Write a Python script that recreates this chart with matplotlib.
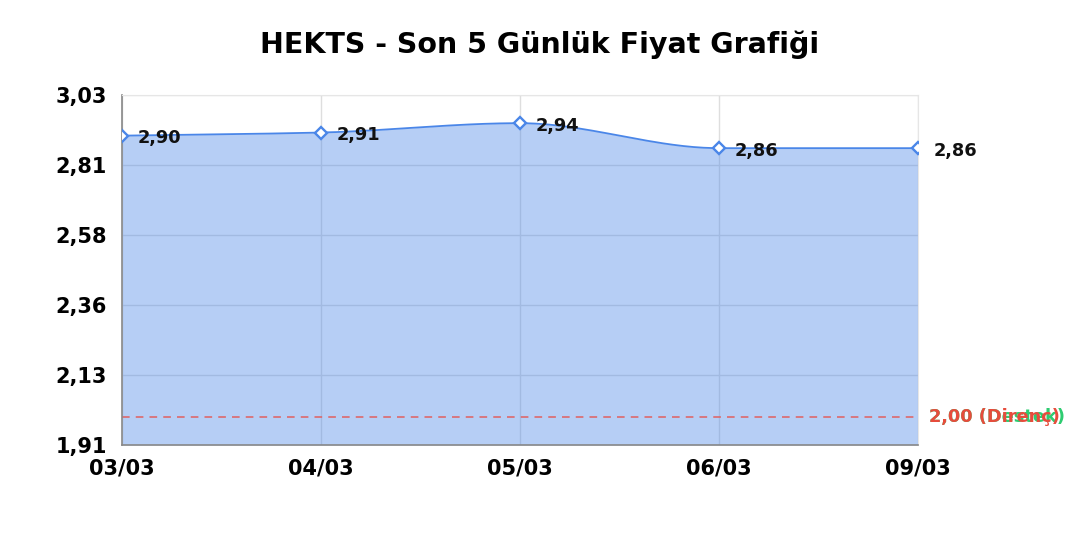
import numpy as np
import matplotlib
matplotlib.use("Agg")
import matplotlib.pyplot as plt

plt.rcParams["font.family"] = ["DejaVu Sans"]

dates = ["03/03", "04/03", "05/03", "06/03", "09/03"]
prices = [2.90, 2.91, 2.94, 2.86, 2.86]
support = 2.00
resistance = 2.00
y_min, y_max = 1.91, 3.03


def monotone(x, y, n=40):
    # monotone cubic (Fritsch-Carlson) curve through the data points
    x = np.asarray(x, float); y = np.asarray(y, float)
    h = np.diff(x); d = np.diff(y) / h
    m = np.zeros_like(y)
    m[0] = d[0]; m[-1] = d[-1]
    for i in range(1, len(y) - 1):
        if d[i - 1] * d[i] <= 0:
            m[i] = 0
        else:
            w1 = 2 * h[i] + h[i - 1]; w2 = h[i] + 2 * h[i - 1]
            m[i] = (w1 + w2) / (w1 / d[i - 1] + w2 / d[i])
    xs, ys = [], []
    t = np.linspace(0, 1, n)
    for i in range(len(x) - 1):
        h00 = 2 * t**3 - 3 * t**2 + 1; h10 = t**3 - 2 * t**2 + t
        h01 = -2 * t**3 + 3 * t**2; h11 = t**3 - t**2
        xs.append(x[i] + t * h[i])
        ys.append(h00 * y[i] + h10 * h[i] * m[i] + h01 * y[i + 1] + h11 * h[i] * m[i + 1])
    return np.concatenate(xs), np.concatenate(ys)


fig = plt.figure(figsize=(10.8, 5.4), dpi=100)
ax = fig.add_axes([0.113, 0.176, 0.737, 0.648])

x = np.arange(len(dates))
xs, ys = monotone(x, prices)
line_color = "#4a86e8"
ax.fill_between(xs, ys, y_min, color=line_color, alpha=0.4, lw=0, zorder=2)
ax.plot(xs, ys, color=line_color, lw=1.3, zorder=3)
ax.plot(x, prices, ls="none", marker="D", ms=6, mfc="white", mec=line_color, mew=1.7, zorder=4)

for xi, p in zip(x, prices):
    ax.annotate(f"{p:.2f}".replace(".", ","), (xi, p), xytext=(11, -2), textcoords="offset points",
                ha="left", va="center", fontsize=12.8, fontweight="bold", color="#111111", zorder=5)

ax.axhline(resistance, color="#e06060", ls=(0, (5, 4)), lw=1.1, zorder=2.5)
ax.annotate(f"{support:.2f} (Destek)".replace(".", ","), (1, support), xycoords=("axes fraction", "data"),
            xytext=(8, 0), textcoords="offset points", ha="left", va="center",
            fontsize=12.8, fontweight="bold", color="#2ecc71")
ax.annotate(f"{resistance:.2f} (Direnç)".replace(".", ","), (1, resistance), xycoords=("axes fraction", "data"),
            xytext=(8, 0), textcoords="offset points", ha="left", va="center",
            fontsize=12.8, fontweight="bold", color="#e74c3c")

ax.set_xlim(0, len(dates) - 1)
ax.set_ylim(y_min, y_max)
yt = np.linspace(y_min, y_max, 6)
ax.set_yticks(yt)
ax.set_yticklabels([f"{v:.2f}".replace(".", ",") for v in yt])
ax.set_xticks(x)
ax.set_xticklabels(dates)
ax.tick_params(labelsize=15, length=0)
ax.tick_params(axis="y", pad=11)
ax.tick_params(axis="x", pad=10)
for lab in ax.get_xticklabels() + ax.get_yticklabels():
    lab.set_fontweight("bold")
ax.grid(True, color="#dedede", lw=1, zorder=0)
ax.set_axisbelow(True)
for s in ["top", "right"]:
    ax.spines[s].set_color("#e6e6e6")
for s in ["left", "bottom"]:
    ax.spines[s].set_color("#888888")
    ax.spines[s].set_linewidth(1.2)

fig.text(0.5, 0.918, "HEKTS - Son 5 Günlük Fiyat Grafiği", ha="center", va="center",
         fontsize=20.5, fontweight="bold")
fig.savefig("out.png", dpi=100)
